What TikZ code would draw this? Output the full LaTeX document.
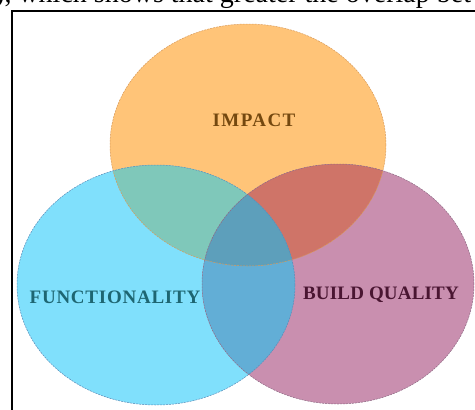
\documentclass[tikz,border=0pt]{standalone}
\usepackage{fontspec}
\setmainfont{Liberation Serif}
\definecolor{cOrange}{HTML}{FFC478}
\definecolor{cCyan}{HTML}{80E0FC}
\definecolor{cPink}{HTML}{C98FAF}
\definecolor{cOC}{HTML}{7FC8BA}
\definecolor{cOP}{HTML}{CF7468}
\definecolor{cCP}{HTML}{62AED6}
\definecolor{cAll}{HTML}{5D9FBB}
\definecolor{eOrange}{HTML}{D89A5A}
\definecolor{eCyan}{HTML}{5A8CB8}
\definecolor{ePink}{HTML}{8E6A84}
\definecolor{tImpact}{HTML}{74480F}
\definecolor{tFunc}{HTML}{1E6672}
\definecolor{tBuild}{HTML}{4A1632}
\tikzset{
  edgeline/.style={line width=0.5pt, dash pattern=on 2pt off 1pt},
  label/.style={font=\fontsize{19}{19}\selectfont\bfseries, inner sep=0pt},
  frameline/.style={line width=2pt, black},
}
\def\ellO{(248,145) ellipse [x radius=138pt, y radius=121pt]}
\def\ellC{(156,285) ellipse [x radius=139pt, y radius=120pt]}
\def\ellP{(338,284) ellipse [x radius=136pt, y radius=120pt]}
\begin{document}
\begin{tikzpicture}[x=1pt,y=-1pt]
\useasboundingbox (0,0) rectangle (475,410);
\begin{scope}
\clip (0,0) rectangle (475,410);
\node[anchor=base west, inner sep=0pt, font=\fontsize{28}{28}\selectfont] (toptext) at (-5,2.5) {), which shows that greater the overlap bet};
\draw[frameline] (12,410) -- (12,11) -- (476,11);
\fill[cOrange] \ellO;
\fill[cCyan] \ellC;
\fill[cPink] \ellP;
\begin{scope}\clip \ellO; \fill[cOC] \ellC; \end{scope}
\begin{scope}\clip \ellO; \fill[cOP] \ellP; \end{scope}
\begin{scope}\clip \ellC; \fill[cCP] \ellP; \end{scope}
\begin{scope}\clip \ellO; \clip \ellC; \fill[cAll] \ellP; \end{scope}
\draw[edgeline, eOrange] \ellO;
\draw[edgeline, eCyan] \ellC;
\draw[edgeline, ePink] \ellP;
\node[label, text=tImpact] (impact) at (254,120) {\addfontfeature{LetterSpace=7.5}IMPACT};
\node[label, text=tFunc] (func) at (115,297) {\addfontfeature{LetterSpace=4}FUNCTIONALITY};
\node[label, text=tBuild] (build) at (381,295) {\addfontfeature{LetterSpace=1}BUILD QUALITY};
\end{scope}
\end{tikzpicture}
\end{document}
